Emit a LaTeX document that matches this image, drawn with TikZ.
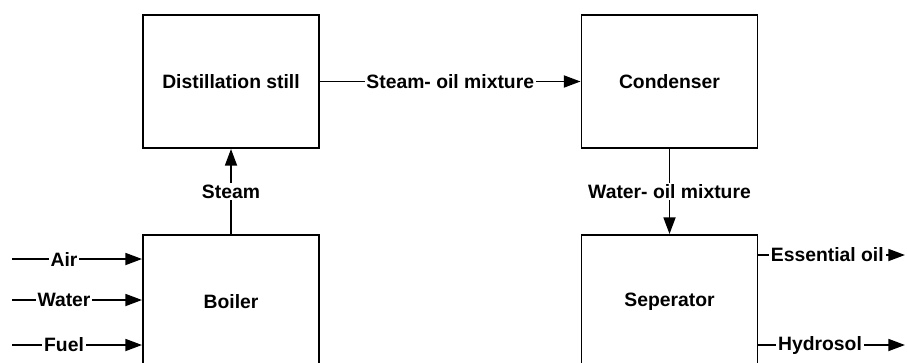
\documentclass[tikz,border=0pt]{standalone}
\usepackage{fontspec}
\setmainfont{Liberation Sans}
\usetikzlibrary{arrows.meta,positioning}

\begin{document}
\begin{tikzpicture}[
    unit/.style={draw, line width=1.1pt, minimum width=3.52cm, minimum height=2.66cm, font=\bfseries\fontsize{11}{13}\selectfont},
    arr/.style={-{Triangle[length=9.5pt, width=6.8pt]}, line width=1.1pt},
    lab/.style={fill=white, inner sep=1pt, font=\bfseries\fontsize{11}{13}\selectfont}
  ]
    \useasboundingbox (0,0) rectangle (18.14,7.24);
    \node[unit] (still) at (4.62,5.61) {Distillation still};
    \node[unit] (cond) at (13.39,5.61) {Condenser};
    \node[unit] (boil) at (4.62,1.21) {Boiler};
    \node[unit] (sep) at (13.39,1.21) {Seperator};
    \coordinate (air) at (0.24,2.06);
    \coordinate (water) at (0.24,1.24);
    \coordinate (fuel) at (0.24,0.34);
    \coordinate (oil) at (18.1,2.14);
    \coordinate (hyd) at (18.1,0.34);
    \draw[arr] (boil) -- node[lab] {Steam} (still);
    \draw[arr] (still) -- node[lab] {Steam- oil mixture} (cond);
    \draw[arr] (cond) -- node[lab] {Water- oil mixture} (sep);
    \draw[arr] (air) -- node[lab, pos=0.4] {Air} (boil.west |- air);
    \draw[arr] (water) -- node[lab, pos=0.4] {Water} (boil.west |- water);
    \draw[arr] (fuel) -- node[lab, pos=0.4] {Fuel} (boil.west |- fuel);
    \draw[arr] (sep.east |- oil) -- node[lab, pos=0.47] {Essential oil} (oil);
    \draw[arr] (sep.east |- hyd) -- node[lab, pos=0.42] {Hydrosol} (hyd);
  \end{tikzpicture}
\end{document}
